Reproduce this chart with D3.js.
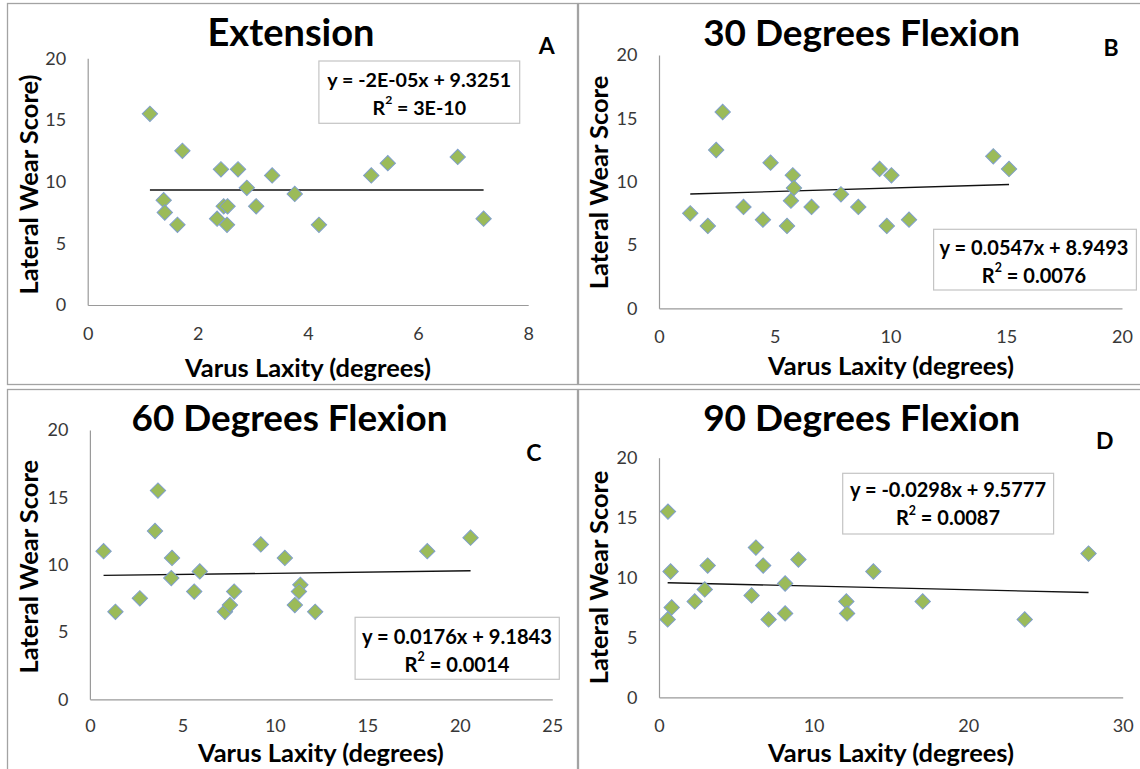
<!DOCTYPE html>
<html>
<head>
<meta charset="utf-8">
<script src="https://cdn.jsdelivr.net/npm/d3@7"></script>
<style>
  html, body { margin: 0; padding: 0; background: #fff; }
  svg { display: block; font-family: Lato, "Open Sans", sans-serif; }
</style>
</head>
<body>
<svg id="chart" width="1140" height="769"></svg>
<script>
// ---------- DATA ----------
const titles = ["Extension", "30 Degrees Flexion", "60 Degrees Flexion", "90 Degrees Flexion"];
const panelLetters = ["A", "B", "C", "D"];
const xAxisTitle = "Varus Laxity (degrees)";
const yAxisTitles = ["Lateral Wear Score)", "Lateral Wear Score", "Lateral Wear Score", "Lateral Wear Score"];

const xA = [1.13, 1.72, 2.42, 2.73, 3.35, 2.89, 3.76, 1.38, 1.40, 1.63, 2.35, 2.47, 2.54, 2.53, 3.06, 4.20, 5.15, 5.45, 6.72, 7.19];
const yA = [15.5, 12.5, 11, 11, 10.5, 9.5, 9, 8.5, 7.5, 6.5, 7, 8, 8, 6.5, 8, 6.5, 10.5, 11.5, 12, 7];

const xB = [2.75, 2.47, 4.82, 5.78, 5.83, 5.70, 1.35, 2.11, 3.65, 4.49, 5.53, 6.59, 7.86, 8.61, 9.53, 10.04, 9.84, 10.80, 14.44, 15.12];
const yB = [15.5, 12.5, 11.5, 10.5, 9.5, 8.5, 7.5, 6.5, 8, 7, 6.5, 8, 9, 8, 11, 10.5, 6.5, 7, 12, 11];

const xC = [0.74, 1.38, 2.70, 3.68, 3.52, 4.44, 4.40, 5.94, 5.64, 7.30, 7.57, 7.80, 9.24, 10.54, 11.38, 11.30, 11.08, 12.18, 18.24, 20.58];
const yC = [11, 6.5, 7.5, 15.5, 12.5, 10.5, 9, 9.5, 8, 6.5, 7, 8, 11.5, 10.5, 8.5, 8, 7, 6.5, 11, 12];

const xD = [0.58, 0.75, 0.82, 0.56, 2.31, 2.96, 3.15, 5.99, 6.27, 6.74, 7.09, 8.16, 8.16, 9.02, 12.12, 12.17, 13.87, 17.06, 23.66, 27.79];
const yD = [15.5, 10.5, 7.5, 6.5, 8, 9, 11, 8.5, 12.5, 11, 6.5, 9.5, 7, 11.5, 8, 7, 10.5, 8, 6.5, 12];

const slopes = [-0.00002, 0.0547, 0.0176, -0.0298];
const intercepts = [9.3251, 8.9493, 9.1843, 9.5777];
const eqLines = ["y = -2E-05x + 9.3251", "y = 0.0547x + 8.9493", "y = 0.0176x + 9.1843", "y = -0.0298x + 9.5777"];
const r2Values = ["3E-10", "0.0076", "0.0014", "0.0087"];

const xTicksA = [0, 2, 4, 6, 8];
const xTicksB = [0, 5, 10, 15, 20];
const xTicksC = [0, 5, 10, 15, 20, 25];
const xTicksD = [0, 10, 20, 30];
const yTicks = [0, 5, 10, 15, 20];

// ---------- LAYOUT ----------
const layout = [
  { frame:[7.5,3.5,570,381], plot:{l:87.7,r:528.2,t:58.3,b:305}, xpad:22, title:{x:291,y:30.7,w:167}, letter:{x:546.7,y:45},
    box:{x:318.9,y:61,w:200.8,h:62.3,cx:419.3,y1:79,y2:106.7,w1:184}, xt:{x:308,y:367,w:246}, yt:{x:27.7,y:184.5} },
  { frame:[578.5,3.5,570,381], plot:{l:659,r:1122,t:55,b:308.3}, xpad:22, title:{x:861.6,y:31.7,w:317}, letter:{x:1111,y:46.7},
    box:{x:933.6,y:229.3,w:202.8,h:60.7,cx:1034,y1:246.7,y2:275,w1:189}, xt:{x:891,y:365,w:246}, yt:{x:598.4,y:182.5} },
  { frame:[7.5,389.5,570,390], plot:{l:89.9,r:552.3,t:430,b:699.3}, xpad:20, title:{x:289.5,y:416.7,w:316}, letter:{x:533.8,y:451.7},
    box:{x:355.1,y:617.3,w:204.2,h:62,cx:457,y1:636,y2:664,w1:190}, xt:{x:320.9,y:751.5,w:246}, yt:{x:27.7,y:566.7} },
  { frame:[578.5,389.5,570,390], plot:{l:659,r:1122.7,t:457.7,b:697.3}, xpad:21.5, title:{x:861.6,y:416.7,w:317}, letter:{x:1104.7,y:440},
    box:{x:842.7,y:473.3,w:210.9,h:60.7,cx:948,y1:489.3,y2:517.3,w1:196}, xt:{x:891,y:752,w:246}, yt:{x:598.4,y:577.5} }
];

const xsAll = [xA, xB, xC, xD];
const ysAll = [yA, yB, yC, yD];
const xTicksAll = [xTicksA, xTicksB, xTicksC, xTicksD];

const svg = d3.select("#chart");

function fitWidth(textSel, target) {
  const node = textSel.node();
  const fs = parseFloat(textSel.attr("font-size"));
  const w = node.getComputedTextLength();
  if (w > 0) textSel.attr("font-size", (fs * target / w).toFixed(2));
  return parseFloat(textSel.attr("font-size"));
}

layout.forEach((L, i) => {
  const g = svg.append("g");
  // panel frame
  g.append("rect").attr("x", L.frame[0]).attr("y", L.frame[1]).attr("width", L.frame[2]).attr("height", L.frame[3])
    .attr("fill", "#fff").attr("stroke", "#a3a3a3").attr("stroke-width", 1.3);

  const xTicks = xTicksAll[i];
  const xScale = d3.scaleLinear().domain([0, xTicks[xTicks.length - 1]]).range([L.plot.l, L.plot.r]);
  const yScale = d3.scaleLinear().domain([0, 20]).range([L.plot.b, L.plot.t]);

  // axes
  const xAxis = d3.axisBottom(xScale).tickValues(xTicks).tickSize(0).tickPadding(L.xpad).tickFormat(d3.format("d"));
  const yAxis = d3.axisLeft(yScale).tickValues(yTicks).tickSize(0).tickPadding(21.5).tickFormat(d3.format("d"));
  const gx = g.append("g").attr("transform", `translate(0,${L.plot.b})`).call(xAxis);
  const gy = g.append("g").attr("transform", `translate(${L.plot.l},0)`).call(yAxis);
  [gx, gy].forEach(a => {
    a.select(".domain").attr("stroke", "#9a9a9a").attr("stroke-width", 1.2);
    a.selectAll("text").attr("font-family", "Lato, sans-serif").attr("font-size", 18).attr("fill", "#383838");
  });

  // trend line over data x-range
  const xs = xsAll[i], ys = ysAll[i];
  const xr = d3.extent(xs);
  const line = d3.line().x(d => xScale(d)).y(d => yScale(slopes[i] * d + intercepts[i]));
  g.append("path").datum(xr).attr("d", line).attr("fill", "none").attr("stroke", "#111").attr("stroke-width", 1.3);

  // markers (diamonds)
  const sym = d3.symbol().type(d3.symbolSquare).size(118);
  g.append("g").selectAll("path").data(xs.map((x, k) => [x, ys[k]])).join("path")
    .attr("d", sym)
    .attr("transform", d => `translate(${xScale(d[0])},${yScale(d[1])}) rotate(45)`)
    .attr("fill", "#9bbb59").attr("stroke", "#7f9fcb").attr("stroke-width", 1);

  // title
  const t = g.append("text").attr("x", L.title.x).attr("y", L.title.y).attr("text-anchor", "middle")
    .attr("dominant-baseline", "central").attr("font-weight", 700).attr("font-size", 34).attr("fill", "#000")
    .text(titles[i]);
  fitWidth(t, L.title.w);

  // panel letter
  g.append("text").attr("x", L.letter.x).attr("y", L.letter.y).attr("text-anchor", "middle")
    .attr("dominant-baseline", "central").attr("font-weight", 700).attr("font-size", 23).attr("fill", "#000")
    .text(panelLetters[i]);

  // axis titles
  const xt = g.append("text").attr("x", L.xt.x).attr("y", L.xt.y).attr("text-anchor", "middle")
    .attr("dominant-baseline", "central").attr("font-weight", 700).attr("font-size", 21).attr("fill", "#000")
    .text(xAxisTitle);
  const fsT = fitWidth(xt, L.xt.w);
  g.append("text").attr("transform", `translate(${L.yt.x},${L.yt.y}) rotate(-90)`).attr("text-anchor", "middle")
    .attr("dominant-baseline", "central").attr("font-weight", 700).attr("font-size", fsT).attr("fill", "#000")
    .text(yAxisTitles[i]);

  // equation box
  g.append("rect").attr("x", L.box.x).attr("y", L.box.y).attr("width", L.box.w).attr("height", L.box.h)
    .attr("fill", "#fff").attr("stroke", "#c4c4c4").attr("stroke-width", 1.2);
  const e1 = g.append("text").attr("x", L.box.cx).attr("y", L.box.y1).attr("text-anchor", "middle")
    .attr("dominant-baseline", "central").attr("font-weight", 700).attr("font-size", 16).attr("fill", "#000")
    .text(eqLines[i]);
  const fsE = fitWidth(e1, L.box.w1);
  const e2 = g.append("text").attr("x", L.box.cx).attr("y", L.box.y2).attr("text-anchor", "middle")
    .attr("dominant-baseline", "central").attr("font-weight", 700).attr("font-size", fsE).attr("fill", "#000");
  e2.append("tspan").text("R");
  e2.append("tspan").attr("font-size", fsE * 0.62).attr("dy", -fsE * 0.38).text("2");
  e2.append("tspan").attr("dy", fsE * 0.38).text(" = " + r2Values[i]);
});
</script>
</body>
</html>
